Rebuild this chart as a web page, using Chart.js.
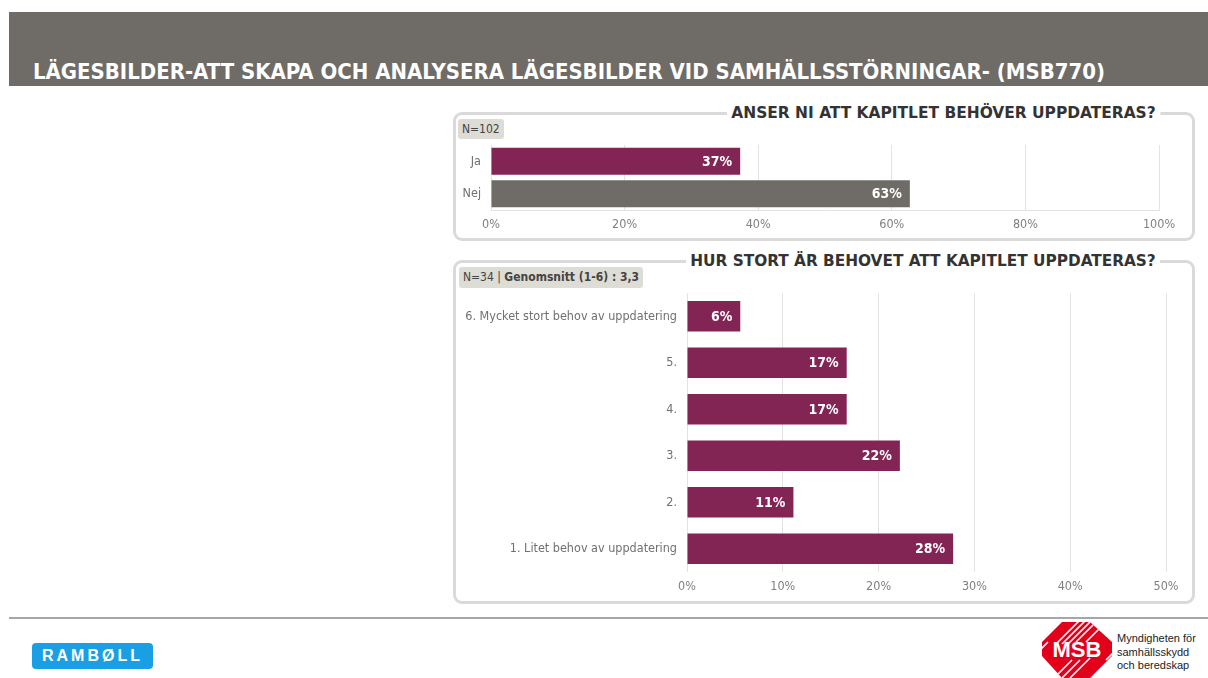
<!DOCTYPE html>
<html>
<head>
<meta charset="utf-8">
<script src="https://cdn.jsdelivr.net/npm/chart.js@4.4.1/dist/chart.umd.min.js"></script>
<style>
  html, body { margin:0; padding:0; background:#fff; }
  body { width:1208px; height:678px; position:relative; overflow:hidden; font-family:"DejaVu Sans Condensed","DejaVu Sans",Verdana,sans-serif; }
  .abs { position:absolute; }
  #header { left:9px; top:12px; width:1199px; height:74px; background:#6f6c67; }
  #mainTitle { left:33px; top:60px; color:#fff; font-weight:bold; font-size:21px; line-height:24px; white-space:nowrap; transform-origin:left top; }
  .panel { border:3px solid #dadada; border-radius:9px; box-sizing:border-box; }
  .ptitle { color:#333; font-weight:bold; font-size:16px; line-height:18px; white-space:nowrap; background:#fff; padding:0 4px; transform-origin:left top; }
  .badge { background:#dddcd5; border-radius:3px; color:#444; font-size:12px; line-height:20px; padding:0 4px; white-space:nowrap; }
  #footLine { left:9px; top:617px; width:1199px; height:2px; background:#a6a6a6; }
  #ramboll { left:32px; top:643px; width:121px; height:26px; background:#1a9fe4; border-radius:4px; color:#fff; font-family:"Liberation Sans",Arial,sans-serif; font-weight:bold; font-size:16px; line-height:26px; text-align:center; letter-spacing:3px; }
  #msbText { left:1117px; top:632px; font-family:"Liberation Sans",Arial,sans-serif; font-size:11px; line-height:13.5px; color:#222; }
</style>
</head>
<body>
<div id="header" class="abs"></div>
<div id="mainTitle" class="abs">LÄGESBILDER-ATT SKAPA OCH ANALYSERA LÄGESBILDER VID SAMHÄLLSSTÖRNINGAR- (MSB770)</div>

<div class="abs panel" style="left:453px;top:112px;width:742px;height:129px;"></div>
<div class="abs panel" style="left:453px;top:260px;width:742px;height:344px;"></div>

<canvas id="c1" class="abs" width="740" height="95" style="left:455px;top:140px;"></canvas>
<canvas id="c2" class="abs" width="740" height="312" style="left:455px;top:285px;"></canvas>

<div id="t1" class="abs ptitle" style="left:727px;top:104px;">ANSER NI ATT KAPITLET BEHÖVER UPPDATERAS?</div>
<div id="t2" class="abs ptitle" style="left:686px;top:252px;">HUR STORT ÄR BEHOVET ATT KAPITLET UPPDATERAS?</div>

<div class="abs badge" style="left:458px;top:119px;">N=102</div>
<div class="abs badge" style="left:459px;top:267px;line-height:21px;">N=34 | <b>Genomsnitt (1-6) : 3,3</b></div>

<div id="footLine" class="abs"></div>
<div id="ramboll" class="abs">RAMBØLL</div>
<svg class="abs" style="left:1040px;top:620px;" width="74" height="58" viewBox="0 0 74 58">
  <defs><clipPath id="cp"><polygon points="22,2 50,2 72,22 72,36 50,58 22,58 2,36 2,22"/></clipPath></defs>
  <polygon points="22,2 50,2 72,22 72,36 50,58 22,58 2,36 2,22" fill="#e2001a"/>
  <g clip-path="url(#cp)" stroke="#fff" stroke-width="1.6">
    <line x1="40" y1="0" x2="16" y2="24"/><line x1="46" y1="0" x2="22" y2="24"/><line x1="52" y1="0" x2="28" y2="24"/>
    <line x1="58" y1="0" x2="36" y2="22"/><line x1="64" y1="4" x2="46" y2="22"/>
    <line x1="30" y1="58" x2="50" y2="38"/><line x1="22" y1="58" x2="40" y2="40"/><line x1="14" y1="58" x2="32" y2="40"/>
    <line x1="0" y1="30" x2="8" y2="22"/><line x1="66" y1="40" x2="74" y2="32"/>
  </g>
  <text x="37" y="37" text-anchor="middle" fill="#fff" font-family="Liberation Sans, Arial, sans-serif" font-size="22" font-weight="bold">MSB</text>
</svg>
<div id="msbText" class="abs">Myndigheten för<br>samhällsskydd<br>och beredskap</div>

<script>
// ---- data ----
const q1Categories = ["Ja", "Nej"];
const q1Values = [37.3, 62.7];
const q1Colors = ["#822454", "#6f6c67"];
const q1Ticks = [0, 20, 40, 60, 80, 100];

const q2Categories = ["6. Mycket stort behov av uppdatering", "5.", "4.", "3.", "2.", "1. Litet behov av uppdatering"];
const q2Values = [5.56, 16.67, 16.67, 22.22, 11.11, 27.78];
const q2Color = "#822454";
const q2Ticks = [0, 10, 20, 30, 40, 50];

const FONT = "'DejaVu Sans Condensed','DejaVu Sans',Verdana,sans-serif";

const valueLabels = {
  id: 'valueLabels',
  afterDatasetsDraw(chart) {
    const ctx = chart.ctx;
    ctx.save();
    ctx.fillStyle = '#fff';
    ctx.font = "bold 14px " + FONT;
    ctx.textAlign = 'right';
    ctx.textBaseline = 'middle';
    const meta = chart.getDatasetMeta(0);
    meta.data.forEach((bar, i) => {
      const v = chart.data.datasets[0].data[i];
      ctx.fillText(Math.round(v) + '%', bar.x - 8, bar.y + 1);
    });
    ctx.restore();
  }
};

function makeChart(id, cats, vals, colors, ticks, max, yWidth, padTop, padRight, barPct, catPct, showAxisLine) {
  return new Chart(document.getElementById(id), {
    type: 'bar',
    data: { labels: cats, datasets: [{ data: vals, backgroundColor: colors, borderWidth: 0, barPercentage: barPct, categoryPercentage: catPct }] },
    options: {
      indexAxis: 'y',
      responsive: false,
      animation: false,
      layout: { padding: { top: padTop, right: padRight, left: 0, bottom: 0 } },
      plugins: { legend: { display: false }, tooltip: { enabled: false } },
      scales: {
        x: {
          min: 0, max: max,
          afterBuildTicks: (s) => { s.ticks = ticks.map(v => ({ value: v })); },
          afterFit: (s) => { s.height = 25; s.paddingLeft = 0; s.paddingRight = 0; },
          ticks: { color: '#808080', font: { family: FONT, size: 12.5 }, padding: 7, callback: (v) => v + '%' },
          grid: { color: '#e3e3e3', lineWidth: 1, drawTicks: false, tickLength: 0 },
          border: { display: showAxisLine, color: '#e3e3e3' }
        },
        y: {
          afterFit: (s) => { s.width = yWidth; s.paddingTop = 0; s.paddingBottom = 0; },
          ticks: { color: '#707070', font: { family: FONT, size: 12.5 }, padding: 10 },
          grid: { display: false, drawTicks: false, tickLength: 0 },
          border: { display: false }
        }
      }
    },
    plugins: [valueLabels]
  });
}

makeChart('c1', q1Categories, q1Values, q1Colors, q1Ticks, 100, 36, 5, 36, 0.83, 1.0, true);
makeChart('c2', q2Categories, q2Values, q2Color, q2Ticks, 50, 232, 8, 29, 0.66, 1.0, false);

// fit text widths to the reference
function fit(id, w, anchorRight) {
  const el = document.getElementById(id);
  const actual = el.getBoundingClientRect().width;
  const s = w / actual;
  el.style.transform = 'scaleX(' + s + ')';
  if (anchorRight !== undefined) {
    el.style.left = (anchorRight - w) + 'px';
  }
}
fit('mainTitle', 1072);
fit('t1', 433, 1160);
fit('t2', 474, 1160);
</script>
</body>
</html>
